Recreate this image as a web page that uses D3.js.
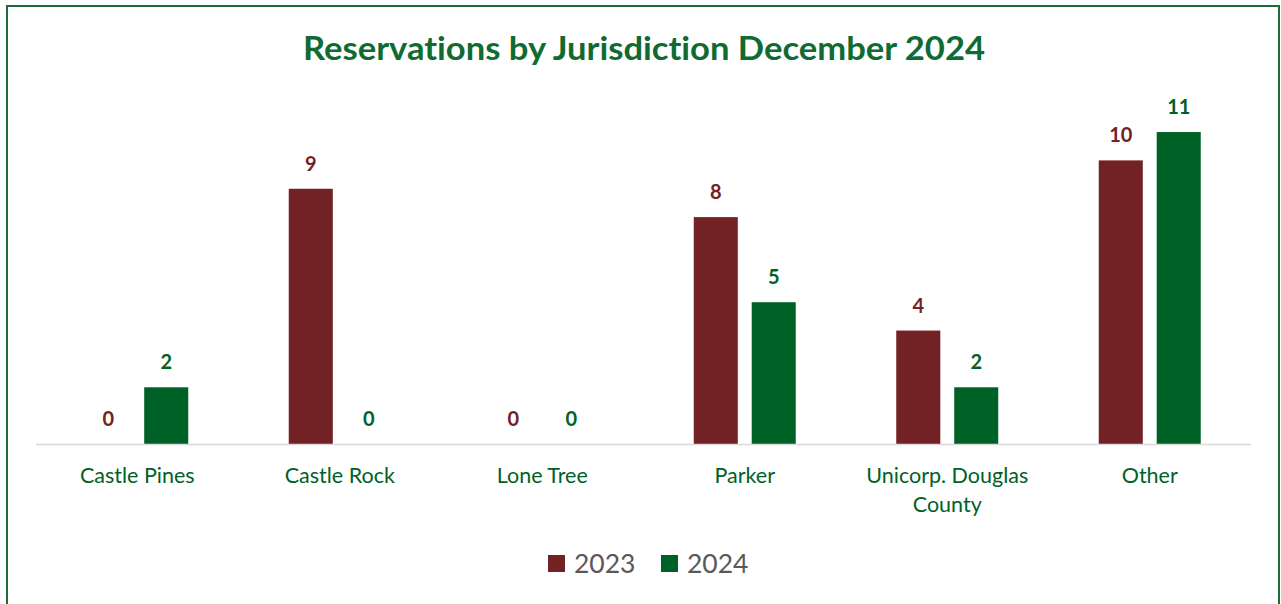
<!DOCTYPE html>
<html>
<head>
<meta charset="utf-8">
<script src="https://cdn.jsdelivr.net/npm/d3@7"></script>
<style>
  body { margin: 0; background: #fff; }
  svg { display: block; font-family: Lato, "Open Sans", sans-serif; font-variant-ligatures: none; }
</style>
</head>
<body>
<script>
// chart data
var categories = ["Castle Pines", "Castle Rock", "Lone Tree", "Parker", "Unicorp. Douglas County", "Other"];
var seriesNames = ["2023", "2024"];
var values2023 = [0, 9, 0, 8, 4, 10];
var values2024 = [2, 0, 0, 5, 2, 11];
var colors = ["#722125", "#006127"];

var width = 1281, height = 604;
var svg = d3.select("body").append("svg")
    .attr("width", width)
    .attr("height", height);

// frame
svg.append("rect")
    .attr("x", 7).attr("y", 6)
    .attr("width", 1272).attr("height", 610)
    .attr("fill", "none")
    .attr("stroke", "#1e6b3a")
    .attr("stroke-width", 2);

svg.append("text")
    .attr("x", 644).attr("y", 60)
    .attr("text-anchor", "middle")
    .attr("font-size", 31.5)
    .attr("font-weight", "bold")
    .attr("fill", "#0f6b32")
    .attr("textLength", 682)
    .attr("lengthAdjust", "spacingAndGlyphs")
    .text("Reservations by Jurisdiction December 2024");

var x = d3.scaleBand().domain(categories).range([36, 1251]);
var inner = d3.scaleBand().domain(seriesNames).range([-51, 51]).paddingInner(0.24);
var y = d3.scaleLinear().domain([0, 12]).range([444, 444 - 12 * 28.36]);

var rows = categories.map(function(c, i) {
  return { cat: c, vals: [values2023[i], values2024[i]] };
});

var groups = svg.selectAll("g.cat")
  .data(rows)
  .enter().append("g")
    .attr("class", "cat")
    .attr("transform", function(d) { return "translate(" + (x(d.cat) + x.bandwidth() / 2) + ",0)"; });

groups.selectAll("rect")
  .data(function(d) { return d.vals.map(function(v, j) { return { s: seriesNames[j], v: v, j: j }; }); })
  .enter().append("rect")
    .attr("x", function(d) { return inner(d.s); })
    .attr("width", inner.bandwidth())
    .attr("y", function(d) { return y(d.v); })
    .attr("height", function(d) { return y(0) - y(d.v); })
    .attr("fill", function(d) { return colors[d.j]; });

groups.selectAll("text.val")
  .data(function(d) { return d.vals.map(function(v, j) { return { s: seriesNames[j], v: v, j: j }; }); })
  .enter().append("text")
    .attr("class", "val")
    .attr("x", function(d) { return inner(d.s) + inner.bandwidth() / 2; })
    .attr("y", function(d) { return y(d.v) - 18; })
    .attr("text-anchor", "middle")
    .attr("font-size", 20)
    .attr("font-weight", "bold")
    .attr("fill", function(d) { return colors[d.j]; })
    .text(function(d) { return d.v; });

// baseline
svg.append("line")
    .attr("x1", 36).attr("x2", 1251)
    .attr("y1", y(0) + 0.5).attr("y2", y(0) + 0.5)
    .attr("stroke", "#d9d9d9")
    .attr("stroke-width", 1.5);

// category labels, wrap long one
var lines = {
  "Unicorp. Douglas County": ["Unicorp. Douglas", "County"]
};
groups.append("text")
    .attr("text-anchor", "middle")
    .attr("font-size", 21.5)
    .attr("fill", "#006127")
    .each(function(d) {
      var t = d3.select(this);
      (lines[d.cat] || [d.cat]).forEach(function(l, i) {
        t.append("tspan").attr("x", 0).attr("y", 483 + i * 29).text(l);
      });
    });

// legend
var legend = svg.selectAll("g.leg")
  .data(seriesNames)
  .enter().append("g")
    .attr("class", "leg")
    .attr("transform", function(d, i) { return "translate(" + (548 + i * 113) + ",0)"; });
legend.append("rect")
    .attr("y", 555).attr("width", 17).attr("height", 17)
    .attr("fill", function(d, i) { return colors[i]; });
legend.append("text")
    .attr("x", 26).attr("y", 573)
    .attr("font-size", 26.5)
    .attr("fill", "#595959")
    .text(function(d) { return d; });
</script>
</body>
</html>
